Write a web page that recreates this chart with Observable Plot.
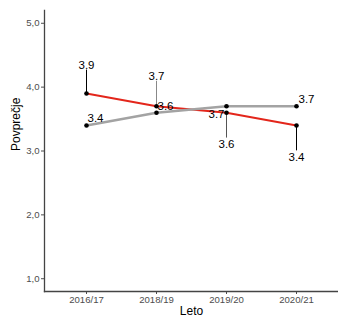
<!DOCTYPE html>
<html><head><meta charset="utf-8">
<script src="https://cdn.jsdelivr.net/npm/d3@7"></script>
<script src="https://cdn.jsdelivr.net/npm/@observablehq/plot@0.6"></script>
<style>body{margin:0;background:#fff}</style>
</head><body><div id="chart"></div>
<script>
const years = ["2016/17", "2018/19", "2019/20", "2020/21"];
const redValues = [3.9, 3.7, 3.6, 3.4];
const grayValues = [3.4, 3.6, 3.7, 3.7];
const yTicks = [1, 2, 3, 4, 5];

const red = years.map((y, i) => ({year: y, v: redValues[i]}));
const gray = years.map((y, i) => ({year: y, v: grayValues[i]}));

// label placement (repel-like): nudge in data units for segment, pixel offsets for text
const redLabelLayout = [
  {nudge: 0.375, seg: "#000", anchor: "bottom", dy: -1},
  {nudge: 0.40, seg: "#888", anchor: "bottom", dy: -1},
  {nudge: -0.39, seg: "#555", anchor: "top", dy: 2},
  {nudge: -0.39, seg: "#000", anchor: "top", dy: 2}
];
const grayLabelLayout = [
  {dx: 1, dy: -3, textAnchor: "start", lineAnchor: "bottom"},
  {dx: 1, dy: -3, textAnchor: "start", lineAnchor: "bottom"},
  {dx: -2, dy: 4, textAnchor: "end", lineAnchor: "top"},
  {dx: 2, dy: -3, textAnchor: "start", lineAnchor: "bottom"}
];

const fmt = d => d.toFixed(1).replace(".", ",");
const lab = d => d.toFixed(1);

const marks = [
  Plot.axisY({ticks: yTicks, tickSize: 3, tickPadding: 2, tickFormat: fmt, label: null, fontSize: 9.6, color: "#4d4d4d"}),
  Plot.axisX({tickSize: 3, tickPadding: 2, label: null, fontSize: 9.6, color: "#4d4d4d"}),
  Plot.frame({anchor: "left", stroke: "#444", strokeWidth: 1.3}),
  Plot.frame({anchor: "bottom", stroke: "#444", strokeWidth: 1.3}),
  Plot.line(red, {x: "year", y: "v", stroke: "#e3261b", strokeWidth: 2}),
  Plot.line(gray, {x: "year", y: "v", stroke: "#a3a3a3", strokeWidth: 2.6})
];

red.forEach((d, i) => {
  const L = redLabelLayout[i];
  const end = {year: d.year, v: d.v, v2: d.v + L.nudge};
  marks.push(Plot.link([end], {x1: "year", x2: "year", y1: "v", y2: "v2", stroke: L.seg, strokeWidth: 1}));
  marks.push(Plot.text([end], {x: "year", y: "v2", text: e => lab(e.v), lineAnchor: L.anchor, dy: L.dy, fontSize: 11.5, fill: "#000"}));
});
gray.forEach((d, i) => {
  const L = grayLabelLayout[i];
  marks.push(Plot.text([d], {x: "year", y: "v", text: e => lab(e.v), textAnchor: L.textAnchor, lineAnchor: L.lineAnchor, dx: L.dx, dy: L.dy, fontSize: 11.5, fill: "#000"}));
});

marks.push(Plot.dot(red, {x: "year", y: "v", r: 2.3, fill: "#000"}));
marks.push(Plot.dot(gray, {x: "year", y: "v", r: 2.3, fill: "#000"}));
marks.push(Plot.text(["Povprečje"], {frameAnchor: "left", rotate: -90, dx: -28, fontSize: 12, fill: "#000"}));
marks.push(Plot.text(["Leto"], {frameAnchor: "bottom", dy: 23, fontSize: 12, fill: "#000"}));

const chart = Plot.plot({
  width: 338, height: 320,
  marginLeft: 44, marginRight: 0, marginTop: 10, marginBottom: 29,
  style: {fontFamily: "'Liberation Sans', Arial, sans-serif", background: "#fff"},
  x: {type: "point", domain: years, padding: 0.6},
  y: {domain: [0.8, 5.2]},
  marks
});
document.getElementById("chart").appendChild(chart);
</script></body></html>
